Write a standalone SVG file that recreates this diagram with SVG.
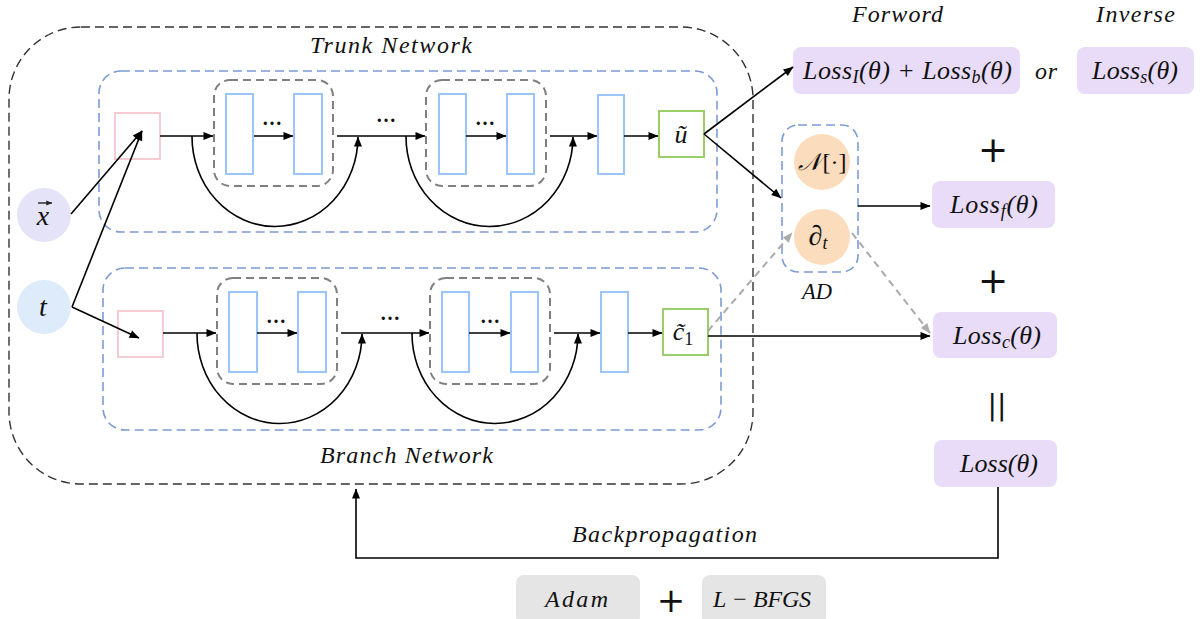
<svg xmlns="http://www.w3.org/2000/svg" width="1203" height="619" viewBox="0 0 1203 619">
<defs>
<marker id="ah" viewBox="0 0 10 10" refX="9.5" refY="5" markerWidth="11" markerHeight="10" markerUnits="userSpaceOnUse" orient="auto"><path d="M0,1 L10,5 L0,9 z" fill="#000"/></marker>
<marker id="ahs" viewBox="0 0 10 10" refX="9.5" refY="5" markerWidth="6" markerHeight="6" markerUnits="userSpaceOnUse" orient="auto"><path d="M0,1 L10,5 L0,9 z" fill="#222"/></marker>
<marker id="ahg" viewBox="0 0 10 10" refX="9.5" refY="5" markerWidth="11" markerHeight="10" markerUnits="userSpaceOnUse" orient="auto"><path d="M0,1 L10,5 L0,9 z" fill="#aaa"/></marker>
</defs>
<style>
.m{font-family:"Liberation Serif","Times New Roman",serif;font-style:italic;fill:#111}
.lbl{font-size:24px}
.lossm{font-size:26px}
.sub{font-size:18px}
.loss{fill:#e8dcf8}
.opt{fill:#e5e5e5}
.arr{stroke:#000;stroke-width:1.6;fill:none;marker-end:url(#ah)}
.garr{stroke:#aaa;stroke-width:2;stroke-dasharray:7 5;fill:none;marker-end:url(#ahg)}
.gdash{stroke:#808080;stroke-width:2;stroke-dasharray:8 5;fill:none}
.bdash{stroke:#7c9bd6;stroke-width:1.6;stroke-dasharray:9 5;fill:none}
.odash{stroke:#333;stroke-width:1.4;stroke-dasharray:9 5;fill:none}
.layer{fill:#fff;stroke:#9ac5f8;stroke-width:2}
.in{fill:none;stroke:#f6ccd2;stroke-width:2}
.out{fill:#fff;stroke:#9ccd6b;stroke-width:2}
.dots{font-family:"Liberation Serif",serif;font-size:20px;font-weight:bold;fill:#111}
.sym{font-family:"DejaVu Sans",sans-serif;fill:#111}
</style>
<rect width="1203" height="619" fill="#fff"/>

<g id="frame">
<rect class="odash" x="9" y="27" width="744" height="457" rx="72"/>
<text class="m lbl" x="310" y="53" textLength="162" lengthAdjust="spacing">Trunk Network</text>
<text class="m lbl" x="320" y="463" textLength="173" lengthAdjust="spacing">Branch Network</text>
</g>

<g id="trunk">
<rect class="bdash" x="99" y="71" width="618" height="161" rx="22"/>
<rect class="in" x="115" y="113" width="45" height="46"/>
<rect class="gdash" x="214" y="80" width="119" height="106" rx="16"/>
<rect class="layer" x="226" y="94" width="27" height="80"/>
<rect class="layer" x="294" y="94" width="28" height="80"/>
<text class="dots" x="272" y="125" text-anchor="middle">…</text>
<text class="dots" x="386" y="122" text-anchor="middle">…</text>
<rect class="gdash" x="426" y="80" width="120" height="106" rx="16"/>
<rect class="layer" x="439" y="94" width="27" height="80"/>
<rect class="layer" x="507" y="94" width="27" height="80"/>
<text class="dots" x="485" y="125" text-anchor="middle">…</text>
<rect class="layer" x="598" y="95" width="26" height="79"/>
<rect class="out" x="659" y="111" width="45" height="46"/>
<text class="m" font-size="26" x="681" y="143" text-anchor="middle">ũ</text>
</g>

<g id="branch">
<rect class="bdash" x="103" y="268" width="618" height="162" rx="22"/>
<rect class="in" x="118" y="311" width="45" height="46"/>
<rect class="gdash" x="217" y="278" width="120" height="106" rx="16"/>
<rect class="layer" x="229" y="292" width="28" height="80"/>
<rect class="layer" x="298" y="292" width="28" height="80"/>
<text class="dots" x="276" y="323" text-anchor="middle">…</text>
<text class="dots" x="390" y="320" text-anchor="middle">…</text>
<rect class="gdash" x="430" y="278" width="120" height="106" rx="16"/>
<rect class="layer" x="442" y="292" width="27" height="80"/>
<rect class="layer" x="511" y="292" width="27" height="80"/>
<text class="dots" x="490" y="323" text-anchor="middle">…</text>
<rect class="layer" x="601" y="292" width="27" height="80"/>
<rect class="out" x="663" y="309" width="45" height="46"/>
<text class="m" font-size="26" x="683" y="340" text-anchor="middle">c̃<tspan class="sub" font-style="normal" dy="5">1</tspan></text>
</g>

<g id="input-x">
<circle cx="44" cy="215" r="27" fill="#e5e3f7"/>
<text class="m" font-size="28" x="43" y="225" text-anchor="middle">x</text>
<line x1="38" y1="203" x2="52" y2="203" stroke="#222" stroke-width="1.4" marker-end="url(#ahs)"/>
</g>
<g id="input-t">
<circle cx="44" cy="307" r="27" fill="#deebfb"/>
<text class="m" font-size="28" x="43" y="316" text-anchor="middle">t</text>
</g>

<g id="ad">
<rect class="bdash" x="782" y="125" width="76" height="147" rx="16"/>
<circle cx="822" cy="162" r="28" fill="#fbdcbd"/>
<text class="m" font-size="24" x="822" y="170" text-anchor="middle">𝒩<tspan font-style="normal" dx="2">[·]</tspan></text>
<circle cx="822" cy="237" r="28" fill="#fbdcbd"/>
<text class="m" font-size="28" x="818" y="245" text-anchor="middle">∂<tspan class="sub" font-size="20" dy="4">t</tspan></text>
<text class="m" font-size="23" x="802" y="299" textLength="30" lengthAdjust="spacingAndGlyphs">AD</text>
</g>

<g id="loss-forward">
<rect class="loss" x="793" y="47" width="227" height="47" rx="8"/>
<text class="m lossm" x="803" y="79" textLength="209" lengthAdjust="spacing">Loss<tspan class="sub" dy="4">I</tspan><tspan dy="-4">(θ) + Loss</tspan><tspan class="sub" dy="4">b</tspan><tspan dy="-4">(θ)</tspan></text>
<text class="m lbl" x="852" y="22" textLength="91" lengthAdjust="spacing">Forword</text>
</g>
<text class="m" font-size="24" x="1035" y="79" textLength="22" lengthAdjust="spacing">or</text>
<g id="loss-inverse">
<rect class="loss" x="1077" y="47" width="117" height="47" rx="8"/>
<text class="m lossm" x="1092" y="79" textLength="86" lengthAdjust="spacing">Loss<tspan class="sub" dy="4">s</tspan><tspan dy="-4">(θ)</tspan></text>
<text class="m lbl" x="1096" y="22" textLength="79" lengthAdjust="spacing">Inverse</text>
</g>
<text class="sym" font-size="36" x="993" y="162" text-anchor="middle">+</text>
<g id="loss-f">
<rect class="loss" x="932" y="181" width="123" height="47" rx="8"/>
<text class="m lossm" x="950" y="213" textLength="88" lengthAdjust="spacing">Loss<tspan class="sub" dy="4">f</tspan><tspan dy="-4">(θ)</tspan></text>
</g>
<text class="sym" font-size="36" x="993" y="293" text-anchor="middle">+</text>
<g id="loss-c">
<rect class="loss" x="933" y="312" width="124" height="46" rx="8"/>
<text class="m lossm" x="953" y="344" textLength="88" lengthAdjust="spacing">Loss<tspan class="sub" dy="4">c</tspan><tspan dy="-4">(θ)</tspan></text>
</g>
<text class="sym" font-size="28" x="997" y="415" text-anchor="middle">||</text>
<g id="loss-total">
<rect class="loss" x="934" y="440" width="123" height="47" rx="8"/>
<text class="m lossm" x="960" y="472" textLength="78" lengthAdjust="spacing">Loss(θ)</text>
</g>

<g id="optimizers">
<rect class="opt" x="516" y="575" width="124" height="50" rx="8"/>
<text class="m lbl" x="545" y="607" textLength="63" lengthAdjust="spacing">Adam</text>
<text class="sym" font-size="34" x="671" y="612" text-anchor="middle">+</text>
<rect class="opt" x="702" y="575" width="124" height="50" rx="8"/>
<text class="m lbl" x="713" y="607" textLength="98" lengthAdjust="spacing">L − BFGS</text>
</g>

<g id="connectors">
<line class="arr" x1="71" y1="214" x2="142" y2="131"/>
<line class="arr" x1="72" y1="307" x2="142" y2="131"/>
<line class="arr" x1="72" y1="307" x2="139" y2="338"/>
<line class="arr" x1="160" y1="136" x2="213" y2="136"/>
<line class="arr" x1="254" y1="136" x2="293" y2="136"/>
<line class="arr" x1="337" y1="136" x2="425" y2="136"/>
<line class="arr" x1="466" y1="136" x2="506" y2="136"/>
<line class="arr" x1="550" y1="136" x2="597" y2="136"/>
<line class="arr" x1="624" y1="136" x2="658" y2="136"/>
<path class="arr" d="M192,136 A83,90 0 0 0 358,137"/>
<path class="arr" d="M406,136 A83.5,90 0 0 0 573,137"/>
<line class="arr" x1="163" y1="333" x2="216" y2="333"/>
<line class="arr" x1="257" y1="333" x2="297" y2="333"/>
<line class="arr" x1="341" y1="333" x2="429" y2="333"/>
<line class="arr" x1="469" y1="333" x2="510" y2="333"/>
<line class="arr" x1="554" y1="333" x2="600" y2="333"/>
<line class="arr" x1="628" y1="333" x2="662" y2="333"/>
<path class="arr" d="M197,333 A82.5,90 0 0 0 362,334"/>
<path class="arr" d="M412,333 A83,90 0 0 0 578,334"/>
<line class="arr" x1="704" y1="134" x2="793" y2="67"/>
<line class="arr" x1="704" y1="134" x2="781" y2="198"/>
<line class="arr" x1="708" y1="336" x2="930" y2="336"/>
<line class="garr" x1="708" y1="331" x2="792" y2="233"/>
<line class="garr" x1="852" y1="233" x2="930" y2="333"/>
<line class="arr" x1="858" y1="206" x2="930" y2="206"/>
<path class="arr" d="M998,487 V558 H356 V489"/>
<text class="m lbl" x="572" y="542" textLength="185" lengthAdjust="spacing">Backpropagation</text>
</g>
</svg>
